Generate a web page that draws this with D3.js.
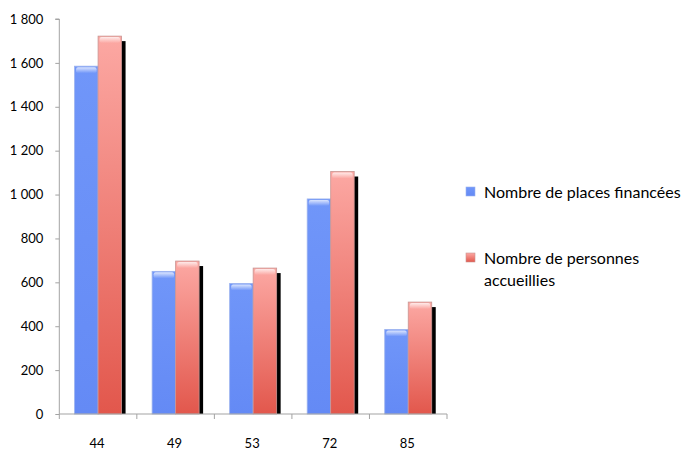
<!DOCTYPE html>
<html><head><meta charset="utf-8">
<script src="https://cdn.jsdelivr.net/npm/d3@7"></script>
<style>body{margin:0;background:#fff}svg{display:block}text{font-family:Lato,"Open Sans",sans-serif;fill:#000}</style>
</head><body><svg id="c" width="681" height="450"></svg>
<script>
const categories = ["44","49","53","72","85"];
const seriesNames = ["Nombre de places financées","Nombre de personnes accueillies"];
const placesFinancees = [1585, 650, 595, 980, 385];
const personnesAccueillies = [1722, 697, 665, 1105, 510];
const yTicks = [0,200,400,600,800,1000,1200,1400,1600,1800];

const svg = d3.select("#c");
const defs = svg.append("defs");
const gb = defs.append("linearGradient").attr("id","gBlue").attr("x1",0).attr("y1",0).attr("x2",0).attr("y2",1);
gb.append("stop").attr("offset",0).attr("stop-color","#7096f9");
gb.append("stop").attr("offset",1).attr("stop-color","#648af5");
const gr = defs.append("linearGradient").attr("id","gRed").attr("x1",0).attr("y1",0).attr("x2",0).attr("y2",1);
gr.append("stop").attr("offset",0).attr("stop-color","#fca8a3");
gr.append("stop").attr("offset",1).attr("stop-color","#e2574c");
const gh = defs.append("linearGradient").attr("id","gHi").attr("x1",0).attr("y1",0).attr("x2",0).attr("y2",1);
gh.append("stop").attr("offset",0).attr("stop-color","#fff").attr("stop-opacity",0.75);
gh.append("stop").attr("offset",1).attr("stop-color","#fff").attr("stop-opacity",0);

const x = d3.scaleBand().domain(categories).range([59.3, 447]);
const xi = d3.scaleBand().domain([0,1]).range([0, x.bandwidth()]).paddingOuter(0.65);
const y = d3.scaleLinear().domain([0,1800]).range([414, 19]);

const axisColor = "#a3a3a3";
// y axis
const ya = svg.append("g").attr("transform","translate(59.3,0)")
  .call(d3.axisLeft(y).tickValues(yTicks).tickSize(4).tickPadding(12)
    .tickFormat(d => d3.format(",")(d).replace(/,/g," ")));
ya.select(".domain").attr("stroke",axisColor).attr("d",`M-4,${y(1800)}H0V${y(0)}`);
ya.selectAll(".tick line").attr("stroke",axisColor);
ya.selectAll(".tick text").attr("font-size",13).attr("font-family","Lato");

// bars
const data = categories.map((c,i)=>({c, v:[placesFinancees[i], personnesAccueillies[i]]}));
const g = svg.append("g");
data.forEach(d=>{
  const x0 = x(d.c);
  // shadow of red bar
  g.append("rect").attr("x", x0+xi(1)+4).attr("y", y(d.v[1])+5)
    .attr("width", xi.bandwidth()).attr("height", y(0)-y(d.v[1])-5).attr("fill","#000");
  [0,1].forEach(s=>{
    const bx = x0+xi(s), by = y(d.v[s]), bw = xi.bandwidth(), bh = y(0)-y(d.v[s]);
    g.append("rect").attr("x",bx).attr("y",by).attr("width",bw).attr("height",bh)
      .attr("fill", s===0?"url(#gBlue)":"url(#gRed)")
      .attr("stroke", s===0?"#9bb2ee":"#c99592").attr("stroke-width",0.8);
    g.append("rect").attr("x",bx+1.5).attr("y",by+1).attr("width",bw-3).attr("height",6)
      .attr("rx",2).attr("fill","url(#gHi)");
  });
});

// x axis
const xa = svg.append("g").attr("transform",`translate(0,${y(0)})`);
xa.append("line").attr("x1",x.range()[0]).attr("x2",x.range()[1]).attr("stroke",axisColor);
const bounds = categories.map(c=>x(c)).concat([x.range()[1]]);
xa.selectAll("line.tk").data(bounds).enter().append("line").attr("class","tk")
  .attr("x1",d=>d).attr("x2",d=>d).attr("y1",0).attr("y2",5).attr("stroke",axisColor);
xa.selectAll("text").data(categories).enter().append("text")
  .attr("x",d=>x(d)+x.bandwidth()/2 - 1).attr("y",34).attr("text-anchor","middle")
  .attr("font-size",13).text(d=>d);

// legend
const legend = svg.append("g").attr("transform","translate(466,0)");
const legY = [187, 253];
const legLines = [["Nombre de places financées"],["Nombre de personnes","accueillies"]];
legLines.forEach((lines,i)=>{
  legend.append("rect").attr("x",0).attr("y",legY[i]).attr("width",9).attr("height",9)
    .attr("fill", i===0?"url(#gBlue)":"url(#gRed)").attr("stroke", i===0?"#9bb2ee":"#c99592").attr("stroke-width",0.6);
  lines.forEach((t,j)=>{
    legend.append("text").attr("x",18).attr("y",legY[i]+11+j*22).attr("font-size",16).text(t);
  });
});
</script></body></html>
